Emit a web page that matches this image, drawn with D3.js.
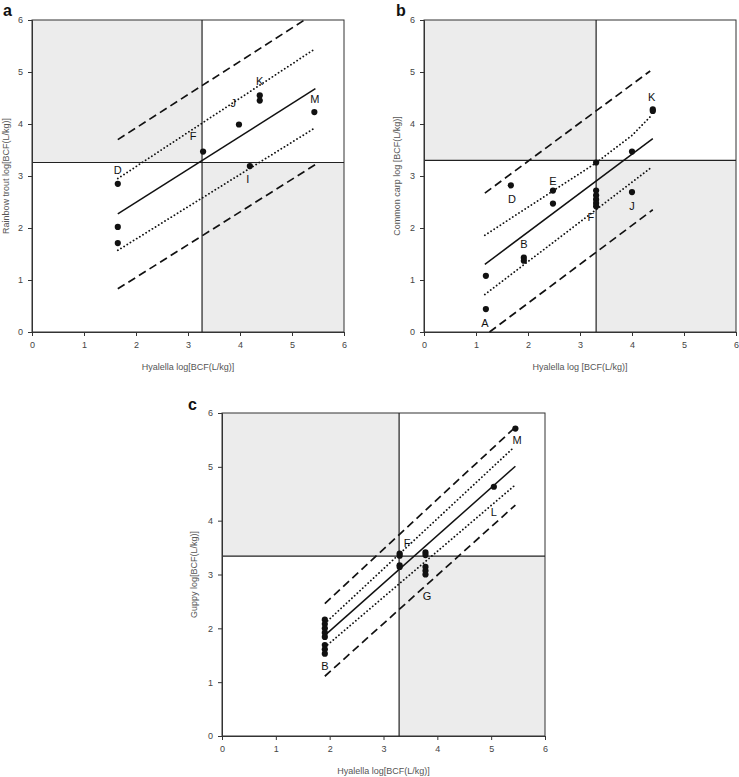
<!DOCTYPE html>
<html>
  <head>
    <meta charset="utf-8">
    <style type="text/css">
      body { margin: 0; background: #fff; font-family: "Liberation Sans", Arial, sans-serif; }
      .tick text { fill: #444; font-size: 9px; }
      .domain, .tick line { stroke: #333; }
    </style>
    <title>Hyalella BCF comparison</title>
  </head>
  <body>
    <script src="https://cdn.jsdelivr.net/npm/d3@7"></script>
    <script>

/*========== Data ==========*/
const axisTicks = [0, 1, 2, 3, 4, 5, 6];

// panel a : rainbow trout
const troutCross = {x: 3.27, y: 3.26};
const troutPoints = [
  [1.65, 2.85], [1.65, 2.02], [1.65, 1.71], [3.29, 3.47], [3.98, 3.99],
  [4.38, 4.55], [4.38, 4.45], [5.43, 4.23], [4.19, 3.19]
];
const troutLabels = [
  ["D", 1.65, 3.12], ["F", 3.10, 3.76], ["J", 3.87, 4.40], ["K", 4.38, 4.82],
  ["M", 5.44, 4.47], ["I", 4.15, 2.93]
];
const troutFit = [[1.65, 2.27], [5.45, 4.68]];
const troutConfHigh = [[1.65, 2.95], [5.45, 5.45]];
const troutConfLow = [[1.65, 1.57], [5.45, 3.93]];
const troutPredHigh = [[1.65, 3.70], [5.24, 6.00]];
const troutPredLow = [[1.65, 0.83], [5.45, 3.22]];

// panel b : common carp
const carpCross = {x: 3.31, y: 3.30};
const carpPoints = [
  [1.19, 0.44], [1.19, 1.08], [1.67, 2.82], [2.48, 2.72], [2.48, 2.47],
  [1.92, 1.43], [1.92, 1.37], [3.31, 3.26], [3.31, 2.72], [3.31, 2.63],
  [3.31, 2.55], [3.31, 2.48], [3.31, 2.42], [4.00, 2.69], [4.00, 3.47],
  [4.40, 4.28], [4.40, 4.25]
];
const carpLabels = [
  ["A", 1.17, 0.17], ["D", 1.69, 2.55], ["E", 2.48, 2.91], ["B", 1.92, 1.68],
  ["F", 3.21, 2.20], ["J", 4.00, 2.42], ["K", 4.38, 4.52]
];
const carpFit = [[1.17, 1.30], [4.40, 3.72]];
const carpConfHigh = [[1.17, 1.86], [3.29, 3.24], [4.00, 3.78], [4.38, 4.17]];
const carpConfLow = [[1.17, 0.72], [4.38, 3.17]];
const carpPredHigh = [[1.17, 2.67], [4.35, 5.02]];
const carpPredLow = [[1.26, 0.00], [4.40, 2.35]];

// panel c : guppy
const guppyCross = {x: 3.29, y: 3.34};
const guppyPoints = [
  [1.91, 2.16], [1.91, 2.08], [1.91, 2.00], [1.91, 1.92], [1.91, 1.84],
  [1.91, 1.69], [1.91, 1.61], [1.91, 1.53], [3.30, 3.39], [3.30, 3.35],
  [3.30, 3.17], [3.30, 3.14], [3.78, 3.41], [3.78, 3.36], [3.78, 3.14],
  [3.78, 3.07], [3.78, 3.00], [5.05, 4.63], [5.45, 5.71]
];
const guppyLabels = [
  ["B", 1.91, 1.30], ["F", 3.44, 3.58], ["G", 3.81, 2.60], ["L", 5.05, 4.16],
  ["M", 5.48, 5.50]
];
const guppyFit = [[1.91, 1.87], [5.45, 5.01]];
const guppyConfHigh = [[1.91, 2.09], [5.42, 5.36]];
const guppyConfLow = [[1.91, 1.65], [5.42, 4.64]];
const guppyPredHigh = [[1.91, 2.46], [5.42, 5.71]];
const guppyPredLow = [[1.91, 1.11], [5.45, 4.29]];

/*========== Layout ==========*/
const svg = d3.select("body").append("svg")
    .attr("width", 739)
    .attr("height", 777);

const panels = [
  {letter: "a", left: 32, top: 20, size: 312, letterX: 3, letterY: 16, yTitleX: 6,
   xTitle: "Hyalella log[BCF(L/kg)]", yTitle: "Rainbow trout log[BCF(L/kg)]",
   cross: troutCross, points: troutPoints, labels: troutLabels,
   fit: troutFit, confHigh: troutConfHigh, confLow: troutConfLow,
   predHigh: troutPredHigh, predLow: troutPredLow},
  {letter: "b", left: 424, top: 20, size: 312, letterX: 396, letterY: 16, yTitleX: 397,
   xTitle: "Hyalella log [BCF(L/kg)]", yTitle: "Common carp log [BCF(L/kg)]",
   cross: carpCross, points: carpPoints, labels: carpLabels,
   fit: carpFit, confHigh: carpConfHigh, confLow: carpConfLow,
   predHigh: carpPredHigh, predLow: carpPredLow},
  {letter: "c", left: 222, top: 413, size: 323, letterX: 188, letterY: 410, yTitleX: 194,
   xTitle: "Hyalella log[BCF(L/kg)]", yTitle: "Guppy log[BCF(L/kg)]",
   cross: guppyCross, points: guppyPoints, labels: guppyLabels,
   fit: guppyFit, confHigh: guppyConfHigh, confLow: guppyConfLow,
   predHigh: guppyPredHigh, predLow: guppyPredLow}
];

/*========== Draw ==========*/
function drawPanel(p) {
  const x = d3.scaleLinear().domain([0, 6]).range([0, p.size]);
  const y = d3.scaleLinear().domain([0, 6]).range([p.size, 0]);
  const g = svg.append("g").attr("transform", `translate(${p.left},${p.top})`);

  // shaded quadrants (upper left, lower right)
  g.append("rect")
      .attr("x", x(0)).attr("y", y(6))
      .attr("width", x(p.cross.x) - x(0)).attr("height", y(p.cross.y) - y(6))
      .attr("fill", "#ececec");
  g.append("rect")
      .attr("x", x(p.cross.x)).attr("y", y(p.cross.y))
      .attr("width", x(6) - x(p.cross.x)).attr("height", y(0) - y(p.cross.y))
      .attr("fill", "#ececec");

  // frame
  g.append("rect")
      .attr("width", p.size).attr("height", p.size)
      .attr("fill", "none").attr("stroke", "#333").attr("stroke-width", 1);

  // crossing lines
  g.append("line")
      .attr("x1", x(p.cross.x)).attr("x2", x(p.cross.x))
      .attr("y1", y(0)).attr("y2", y(6))
      .attr("stroke", "#222").attr("stroke-width", 1.2);
  g.append("line")
      .attr("x1", x(0)).attr("x2", x(6))
      .attr("y1", y(p.cross.y)).attr("y2", y(p.cross.y))
      .attr("stroke", "#222").attr("stroke-width", 1.2);

  // axes
  g.append("g")
      .attr("transform", `translate(0,${p.size})`)
      .call(d3.axisBottom(x).tickValues(axisTicks).tickFormat(d3.format("d")).tickSize(4).tickPadding(6));
  g.append("g")
      .call(d3.axisLeft(y).tickValues(axisTicks).tickFormat(d3.format("d")).tickSize(4).tickPadding(5));

  // regression and interval lines
  const line = d3.line().x(d => x(d[0])).y(d => y(d[1]));
  g.append("path").attr("d", line(p.predHigh))
      .attr("fill", "none").attr("stroke", "#111").attr("stroke-width", 1.7)
      .attr("stroke-dasharray", "8,4.5");
  g.append("path").attr("d", line(p.predLow))
      .attr("fill", "none").attr("stroke", "#111").attr("stroke-width", 1.7)
      .attr("stroke-dasharray", "8,4.5");
  g.append("path").attr("d", line(p.confHigh))
      .attr("fill", "none").attr("stroke", "#111").attr("stroke-width", 1.8)
      .attr("stroke-linecap", "round").attr("stroke-dasharray", "0.1,3.6");
  g.append("path").attr("d", line(p.confLow))
      .attr("fill", "none").attr("stroke", "#111").attr("stroke-width", 1.8)
      .attr("stroke-linecap", "round").attr("stroke-dasharray", "0.1,3.6");
  g.append("path").attr("d", line(p.fit))
      .attr("fill", "none").attr("stroke", "#111").attr("stroke-width", 1.5);

  // points
  g.selectAll(".pt")
    .data(p.points)
    .enter()
    .append("circle")
      .attr("cx", d => x(d[0]))
      .attr("cy", d => y(d[1]))
      .attr("r", 3.1)
      .attr("fill", "#111");

  // point labels
  g.selectAll(".lbl")
    .data(p.labels)
    .enter()
    .append("text")
      .attr("x", d => x(d[1]))
      .attr("y", d => y(d[2]))
      .attr("dy", "0.35em")
      .attr("text-anchor", "middle")
      .attr("font-size", "11px")
      .attr("fill", "#111")
      .text(d => d[0]);

  // axis titles
  g.append("text")
      .attr("x", p.size / 2)
      .attr("y", p.size + 38)
      .attr("text-anchor", "middle")
      .attr("font-size", "9px")
      .attr("fill", "#555")
      .text(p.xTitle);
  svg.append("text")
      .attr("transform", `translate(${p.yTitleX},${p.top + p.size / 2}) rotate(-90)`)
      .attr("dy", "0.35em")
      .attr("text-anchor", "middle")
      .attr("font-size", "9px")
      .attr("fill", "#555")
      .text(p.yTitle);

  // panel letter
  svg.append("text")
      .attr("x", p.letterX)
      .attr("y", p.letterY)
      .attr("font-size", "16px")
      .attr("font-weight", "bold")
      .attr("fill", "#111")
      .text(p.letter);
}

panels.forEach(drawPanel);

    </script>
  </body>
</html>
